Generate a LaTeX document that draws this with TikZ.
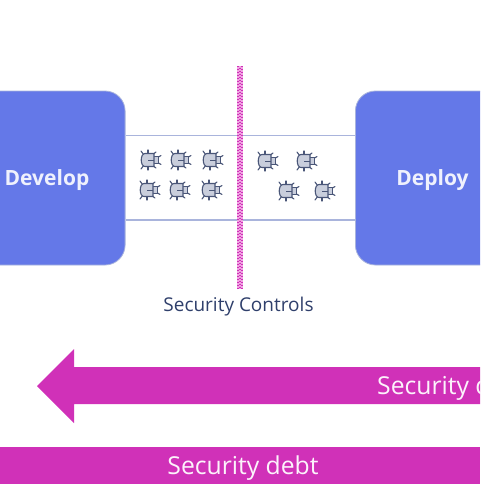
\documentclass[tikz,border=0pt]{standalone}
\usepackage{fontspec}
\setmainfont{Open Sans}
\definecolor{boxblue}{HTML}{6478E8}
\definecolor{edgeblue}{HTML}{A9B4DC}
\definecolor{magbar}{HTML}{D031B8}
\definecolor{pinkbar}{HTML}{F0A4E2}
\definecolor{inkblue}{HTML}{2F3F6B}
\definecolor{bugfill}{HTML}{C9CEDC}
\definecolor{bugink}{HTML}{4A5678}
\tikzset{
  stagebox/.style={draw=edgeblue,line width=0.8pt,fill=boxblue,rounded corners=20pt,minimum height=174pt,inner sep=0pt},
  stagelabel/.style={text=white!90!boxblue,font=\fontsize{21}{25}\selectfont\bfseries,inner sep=0pt},
  lane/.style={draw=edgeblue,line width=1.3pt},
  barlabel/.style={text=white!94!magbar,font=\fontsize{24.7}{29}\selectfont,inner sep=0pt},
  bugleg/.style={draw=bugink,line width=1.1pt,line cap=round},
  bug/.pic={
    \draw[bugleg] (-5,-5) -- (-8,-9);
    \draw[bugleg] (-1,-6) -- (-1,-10);
    \draw[bugleg] (3,-5) -- (7,-8);
    \draw[bugleg] (-5,5) -- (-8,9);
    \draw[bugleg] (-1,6) -- (-1,10);
    \draw[bugleg] (3,5) -- (7,8);
    \draw[bugleg] (8,-2) -- (12,-4.5);
    \draw[bugleg] (8,2) -- (12,4.5);
    \draw[bugink,line width=1pt,fill=bugfill] (4,-3.5) rectangle (9,3.5);
    \draw[bugink,line width=1.1pt,fill=bugfill] (5,-6.5) -- (-4,-6.5) .. controls (-9,-6.5) and (-9,6.5) .. (-4,6.5) -- (5,6.5) -- cycle;
    \draw[bugink,line width=0.9pt] (-1,0) -- (5,0);
  },
  checker/.style={draw=magbar,line width=2pt,dash pattern=on 1pt off 2pt}
}
\begin{document}
\begin{tikzpicture}[x=1pt,y=-1pt]
\useasboundingbox (0,0) rectangle (480,504);
\clip (0,0) rectangle (480,504);
\node[stagebox,minimum width=165pt,anchor=east] (dev) at (125.5,178) {};
\node[stagebox,minimum width=165pt,anchor=west] (dep) at (355,178) {};
\node[stagelabel] (devlabel) at (47,180) {Develop};
\node[stagelabel] (deplabel) at (432.5,180) {Deploy};
\coordinate (lt) at (0,135.5);
\coordinate (lb) at (0,220);
\draw[lane] (dev.east |- lt) -- (dep.west |- lt);
\draw[lane] (dev.east |- lb) -- (dep.west |- lb);
\foreach \x/\y in {149/160,179/160,211/160,148/190,178/190,210/190,266/161,305/161,287/191,323/191}
  \pic at (\x,\y) {bug};
\fill[pinkbar] (236.5,66) rectangle (242.5,289);
\draw[checker] (237.5,66) -- (237.5,289);
\draw[checker] (239.5,67.5) -- (239.5,289);
\draw[checker] (241.5,66) -- (241.5,289);
\node[text=inkblue,font=\fontsize{19}{23}\selectfont,inner sep=0pt] (ctrl) at (238.5,307) {Security Controls};
\fill[magbar] (37,386) -- (74,349) -- (74,367) -- (480,367) -- (480,404) -- (74,404) -- (74,423) -- cycle;
\node[barlabel,anchor=west] (sd1) at (377,388) {Security d};
\fill[magbar] (0,447) rectangle (480,484);
\node[barlabel] (sd2) at (243,468) {Security debt};
\end{tikzpicture}
\end{document}
